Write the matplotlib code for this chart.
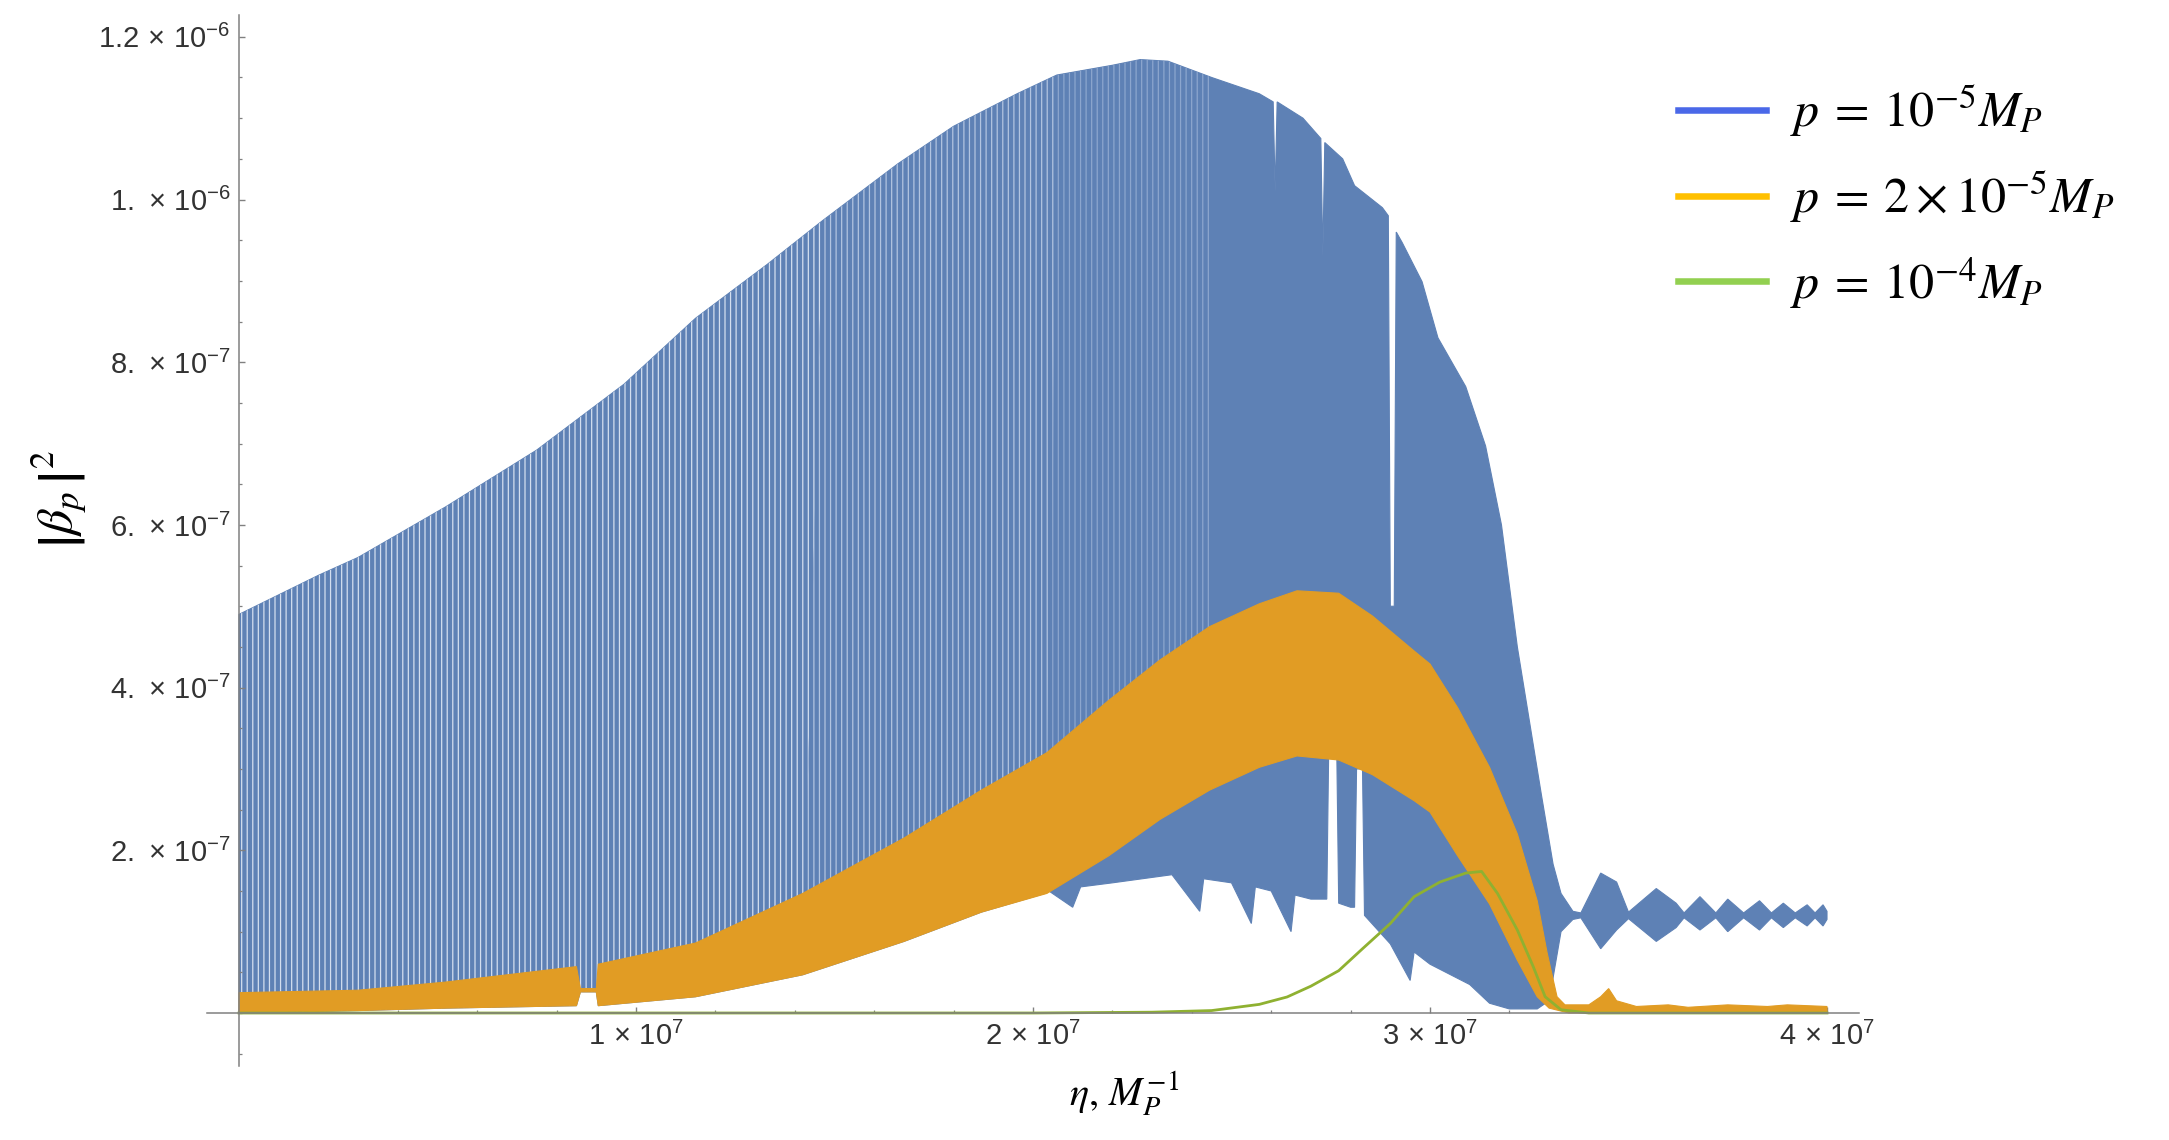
import numpy as np
import matplotlib
matplotlib.use("Agg")
import matplotlib.pyplot as plt
from matplotlib.lines import Line2D
from matplotlib.ticker import FixedLocator, MultipleLocator

# ---------------- data (eta in units of 1e7 M_P^-1, |beta_p|^2 in units of 1e-7) -------------
ETA_UNIT = 1e7
VAL_UNIT = 1e-7

# p = 1e-5 M_P : envelope of the fast oscillation (top / bottom edges)
blue_top_eta = [0.0, 0.2, 0.3, 0.52, 0.75, 0.97, 1.15, 1.33, 1.47, 1.66, 1.80, 1.96, 2.06, 2.2,
                2.27, 2.34, 2.45, 2.57, 2.605, 2.61, 2.615, 2.68, 2.725, 2.73, 2.735, 2.78, 2.81,
                2.88, 2.895, 2.9, 2.91, 2.915, 2.93, 2.98, 3.02, 3.09, 3.14, 3.18, 3.22, 3.28,
                3.31, 3.33, 3.36, 3.38, 3.43, 3.47, 3.50, 3.57, 3.62, 3.64, 3.68, 3.72, 3.75,
                3.79, 3.83, 3.86, 3.89, 3.92, 3.95, 3.97, 3.99, 4.0]
blue_top = [4.9, 5.38, 5.6, 6.22, 6.92, 7.73, 8.54, 9.2, 9.74, 10.44, 10.9, 11.3, 11.53, 11.65,
            11.72, 11.7, 11.5, 11.3, 11.2, 10.1, 11.2, 11.0, 10.75, 9.3, 10.7, 10.5, 10.17,
            9.9, 9.8, 5.0, 5.0, 9.6, 9.47, 8.99, 8.3, 7.7, 6.97, 6.0, 4.5, 2.7,
            1.83, 1.47, 1.25, 1.23, 1.72, 1.61, 1.24, 1.53, 1.35, 1.23, 1.43, 1.23, 1.40,
            1.23, 1.38, 1.23, 1.35, 1.23, 1.33, 1.23, 1.33, 1.25]
blue_bot_eta = [0.0, 0.3, 0.52, 0.85, 0.86, 0.9, 0.905, 1.15, 1.42, 1.675, 1.87, 2.03, 2.04, 2.1,
                2.12, 2.2, 2.35, 2.42, 2.43, 2.5, 2.55, 2.56, 2.6, 2.65, 2.66, 2.7, 2.74, 2.745,
                2.765, 2.77, 2.8, 2.81, 2.815, 2.83, 2.835, 2.9, 2.95, 2.96, 3.0, 3.1, 3.15,
                3.2, 3.27, 3.3, 3.33, 3.36, 3.38, 3.43, 3.47, 3.50, 3.57, 3.62, 3.64, 3.68,
                3.72, 3.75, 3.79, 3.83, 3.86, 3.89, 3.92, 3.95, 3.97, 3.99, 4.0]
blue_bot = [0.0, 0.03, 0.06, 0.09, 0.26, 0.26, 0.09, 0.2, 0.47, 0.88, 1.24, 1.47, 1.5, 1.3,
            1.55, 1.6, 1.7, 1.25, 1.65, 1.6, 1.1, 1.55, 1.5, 1.0, 1.45, 1.4, 1.4, 3.3,
            3.3, 1.35, 1.3, 1.3, 3.0, 3.0, 1.2, 0.85, 0.4, 0.75, 0.6, 0.35, 0.12,
            0.05, 0.05, 0.15, 1.0, 1.15, 1.17, 0.79, 1.02, 1.16, 0.88, 1.05, 1.17, 1.02,
            1.17, 1.0, 1.17, 1.02, 1.17, 1.05, 1.17, 1.07, 1.17, 1.07, 1.15]

# p = 2e-5 M_P
orange_top_eta = [0.0, 0.3, 0.52, 0.85, 0.86, 0.9, 0.905, 1.15, 1.42, 1.675, 1.87, 2.035, 2.19,
                  2.32, 2.445, 2.57, 2.665, 2.77, 2.855, 2.96, 3.0, 3.07, 3.15, 3.22, 3.27,
                  3.295, 3.32, 3.34, 3.4, 3.43, 3.45, 3.47, 3.52, 3.6, 3.65, 3.75, 3.85, 3.9,
                  4.0]
orange_top = [0.25, 0.28, 0.38, 0.57, 0.30, 0.30, 0.6, 0.86, 1.47, 2.15, 2.74, 3.2, 3.84,
              4.34, 4.75, 5.03, 5.19, 5.16, 4.88, 4.45, 4.29, 3.75, 3.02, 2.2, 1.38,
              0.74, 0.2, 0.1, 0.1, 0.2, 0.3, 0.15, 0.08, 0.1, 0.07, 0.1, 0.08, 0.1,
              0.08]
orange_bot_eta = [0.0, 0.3, 0.52, 0.85, 0.86, 0.9, 0.905, 1.15, 1.42, 1.675, 1.87, 2.035, 2.19,
                  2.32, 2.445, 2.57, 2.665, 2.77, 2.855, 2.96, 3.0, 3.07, 3.15, 3.22, 3.27,
                  3.3, 3.35, 4.0]
orange_bot = [0.0, 0.03, 0.06, 0.09, 0.26, 0.26, 0.09, 0.2, 0.47, 0.88, 1.24, 1.47, 1.93,
              2.38, 2.74, 3.02, 3.16, 3.11, 2.93, 2.61, 2.47, 1.93, 1.34, 0.65, 0.2,
              0.06, 0.0, 0.0]

# p = 1e-4 M_P
green_eta = [0.0, 2.0, 2.3, 2.45, 2.57, 2.64, 2.70, 2.77, 2.83, 2.90, 2.96, 3.025, 3.09, 3.13,
             3.17, 3.22, 3.26, 3.29, 3.33, 3.4, 4.0]
green_val = [0.0, 0.0, 0.01, 0.03, 0.106, 0.197, 0.33, 0.52, 0.79, 1.1, 1.43, 1.61, 1.72, 1.74,
             1.47, 1.02, 0.57, 0.2, 0.04, 0.0, 0.0]

x_ticks = [1, 2, 3, 4]
x_tick_labels = [r"$1\,\times\,10^{7}$", r"$2\,\times\,10^{7}$", r"$3\,\times\,10^{7}$",
                 r"$4\,\times\,10^{7}$"]
y_ticks = [2, 4, 6, 8, 10, 12]
y_tick_labels = [r"$2.\,\times\,10^{-7}$", r"$4.\,\times\,10^{-7}$", r"$6.\,\times\,10^{-7}$",
                 r"$8.\,\times\,10^{-7}$", r"$1.\,\times\,10^{-6}$", r"$1.2\,\times\,10^{-6}$"]
legend_labels = [r"$p\:=\:10^{-5}M_P$", r"$p\:=\:2\times10^{-5}M_P$", r"$p\:=\:10^{-4}M_P$"]

# ---------------- style ----------------
plt.rcParams["mathtext.fontset"] = "custom"
plt.rcParams["mathtext.rm"] = "Liberation Sans"
plt.rcParams["mathtext.it"] = "Liberation Sans:italic"
plt.rcParams["mathtext.bf"] = "Liberation Sans:bold"
plt.rcParams["mathtext.sf"] = "Liberation Sans"
plt.rcParams["font.family"] = ["Liberation Sans", "DejaVu Sans"]
plt.rcParams["hatch.linewidth"] = 0.9

BLUE = "#5E81B5"
ORANGE = "#E19C24"
GREEN = "#8FB131"
AXC = "#808080"

fig = plt.figure(figsize=(21.69, 11.40), dpi=100)
ax = fig.add_axes([207 / 2169, 1 - 1066 / 1140, (1859 - 207) / 2169, (1066 - 15) / 1140])


def band(te, tv, be, bv, **kw):
    xs = np.concatenate([np.asarray(te), np.asarray(be)[::-1]]) * ETA_UNIT
    ys = np.concatenate([np.asarray(tv), np.asarray(bv)[::-1]]) * VAL_UNIT
    return ax.fill(xs, ys, **kw)


bte = np.asarray(blue_top_eta)
bbe = np.asarray(blue_bot_eta)
btv = np.asarray(blue_top)
bbv = np.asarray(blue_bot)
ote = np.asarray(orange_top_eta)
otv = np.asarray(orange_top)
band(bte, btv, bbe, bbv, facecolor=BLUE, edgecolor=BLUE, linewidth=0.8, zorder=1)
# striped look of the resolved oscillations, fading out towards the maximum
mt = bte <= 1.47
mb = bbe <= 1.42
band(bte[mt], btv[mt], bbe[mb], bbv[mb],
     facecolor="none", edgecolor="#D3DEEF", linewidth=0, hatch="|||", zorder=1.1)
mt = (bte >= 1.47) & (bte <= 2.06)
mb = (bbe >= 1.42) & (bbe <= 2.04)
band(bte[mt], btv[mt], bbe[mb], bbv[mb],
     facecolor="none", edgecolor="#B2C4E0", linewidth=0, hatch="|||", zorder=1.1)
mt = (bte >= 2.06) & (bte <= 2.45)
mo = (ote >= 2.035) & (ote <= 2.445)
band(bte[mt], btv[mt], ote[mo], otv[mo],
     facecolor="none", edgecolor="#8CA6CE", linewidth=0, hatch="|||", zorder=1.1)

band(orange_top_eta, orange_top, orange_bot_eta, orange_bot,
     facecolor=ORANGE, edgecolor=ORANGE, linewidth=0.8, zorder=2)

ax.plot(np.asarray(green_eta) * ETA_UNIT, np.asarray(green_val) * VAL_UNIT,
        color=GREEN, linewidth=2.0, zorder=3)

# axes in Mathematica style (crossing at origin)
ax.set_xlim(-8.06e5, 4.0806e7)
ax.set_ylim(-6.515e-8, 1.2268e-6)
for s in ["top", "right"]:
    ax.spines[s].set_visible(False)
ax.spines["left"].set_position(("data", 0))
ax.spines["bottom"].set_position(("data", 0))
for s in ["left", "bottom"]:
    ax.spines[s].set_color(AXC)
    ax.spines[s].set_linewidth(1.1)
    ax.spines[s].set_zorder(4)

ax.xaxis.set_major_locator(FixedLocator([v * ETA_UNIT for v in x_ticks]))
ax.xaxis.set_minor_locator(MultipleLocator(2e6))
ax.yaxis.set_major_locator(FixedLocator([v * VAL_UNIT for v in y_ticks]))
ax.yaxis.set_minor_locator(MultipleLocator(5e-8))
ax.set_xticklabels(x_tick_labels)
ax.set_yticklabels(y_tick_labels)
ax.tick_params(which="major", direction="in", length=4, width=1.0, color=AXC,
               labelsize=21, labelcolor="#333333", pad=6)
ax.tick_params(which="minor", direction="in", length=2.2, width=0.9, color=AXC)

fig.text(58 / 2169, 1 - 499 / 1140, r"$\left|\beta_p\,\right|^2$", rotation=90,
         ha="center", va="center", fontsize=36, math_fontfamily="stix")
fig.text(1124 / 2169, 1 - 1094 / 1140, r"$\eta,\, M_P^{-1}$",
         ha="center", va="center", fontsize=29, math_fontfamily="stix")

handles = [Line2D([], [], color=c, linewidth=4.7) for c in ["#4A68E8", "#FFC000", "#92D050"]]
leg = ax.legend(handles, legend_labels, loc="upper left",
                bbox_to_anchor=(1678 / 2169, 1 - 83 / 1140), bbox_transform=fig.transFigure,
                frameon=False, fontsize=36, handlelength=1.75, handletextpad=0.5,
                labelspacing=0.6, borderpad=0, borderaxespad=0)
for t in leg.get_texts():
    t.set_math_fontfamily("stix")

fig.savefig("out.png", dpi=100)
